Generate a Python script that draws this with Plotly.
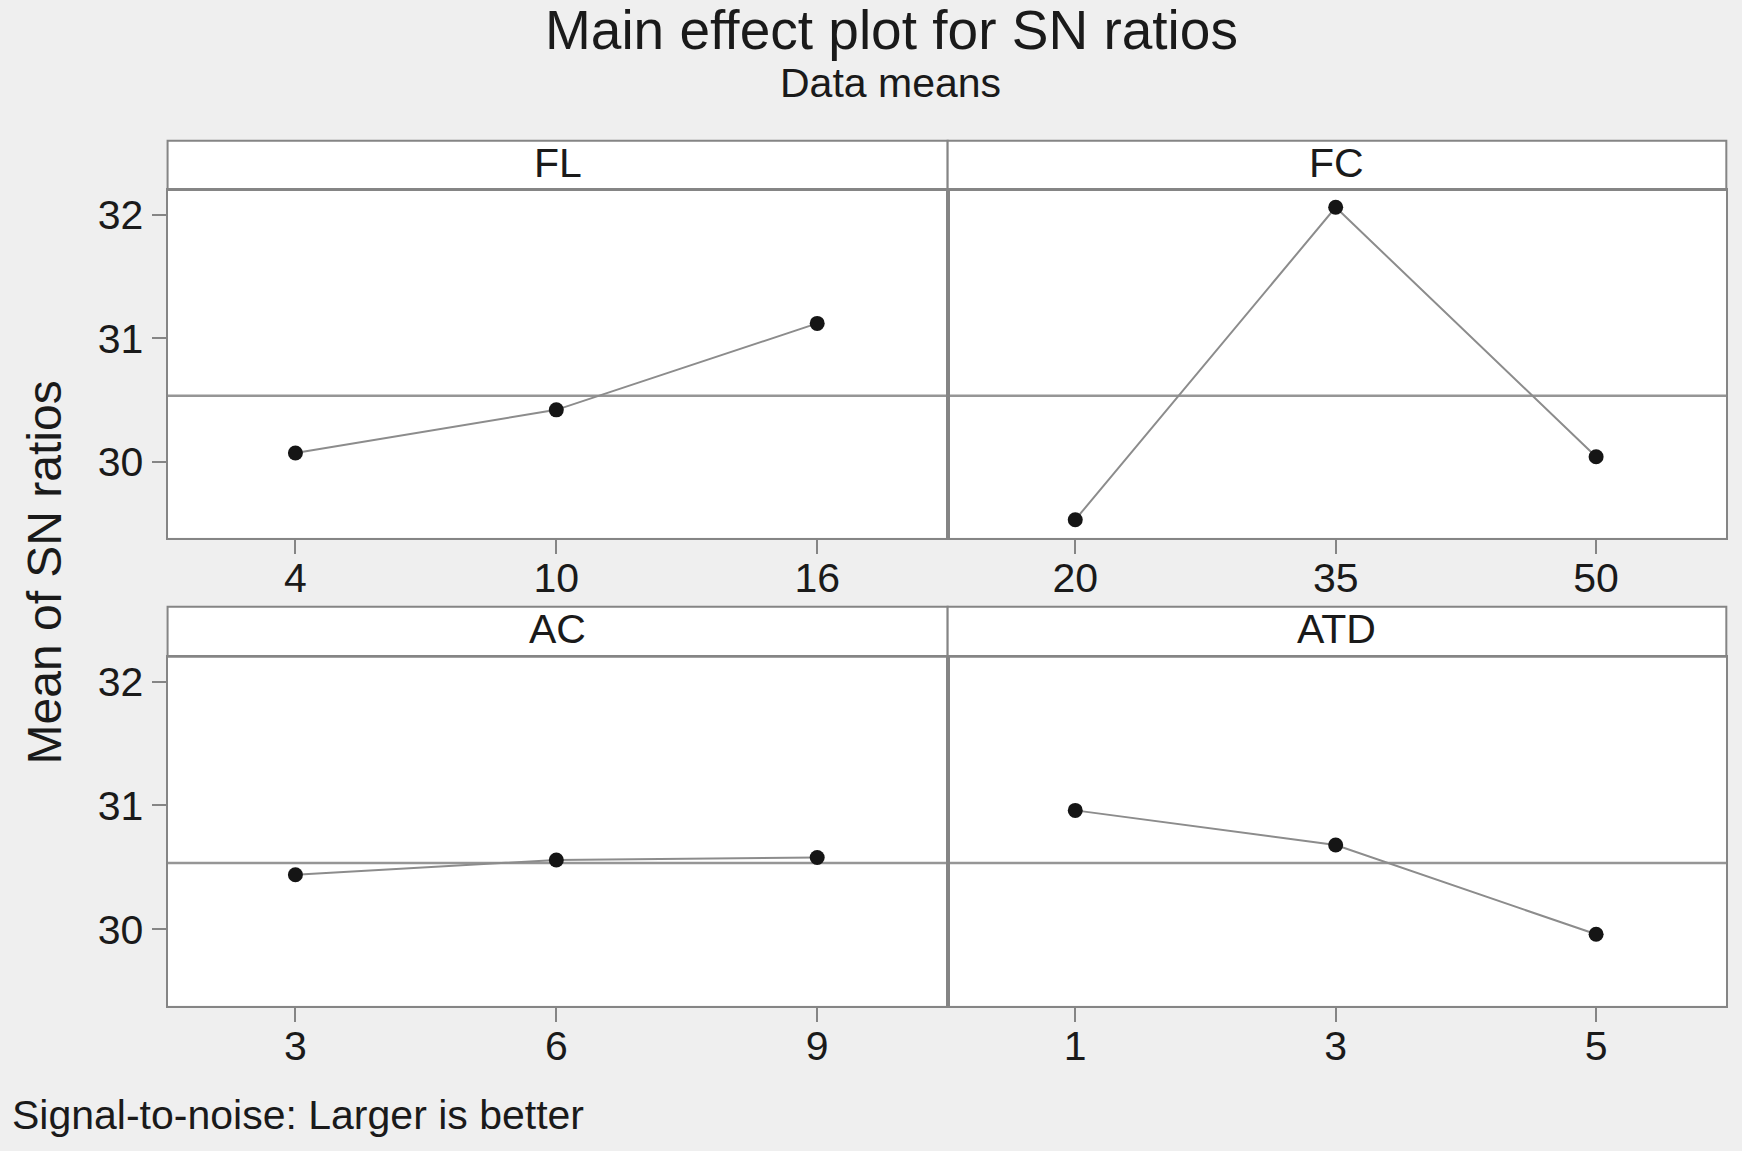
import numpy as np
import plotly.graph_objects as go

# ---- data ----
factors = ["FL", "FC", "AC", "ATD"]
FL_levels = ["4", "10", "16"]
FL_means = [30.07, 30.42, 31.12]
FC_levels = ["20", "35", "50"]
FC_means = [29.53, 32.06, 30.04]
AC_levels = ["3", "6", "9"]
AC_means = [30.44, 30.56, 30.58]
ATD_levels = ["1", "3", "5"]
ATD_means = [30.96, 30.68, 29.96]
y_tick_values = [30, 31, 32]

title_text = "Main effect plot for SN ratios"
subtitle_text = "Data means"
y_title_text = "Mean of SN ratios"
footer_text = "Signal-to-noise: Larger is better"

levels = [FL_levels, FC_levels, AC_levels, ATD_levels]
means = [FL_means, FC_means, AC_means, ATD_means]
grand_mean = float(np.mean(np.concatenate([np.array(m) for m in means])))

# ---- style ----
W, H = 1742, 1151
BG = "#efefef"
LINE = "#858585"
TXT = "#1a1a1a"
FONT = "Liberation Sans, Arial, sans-serif"

col_x = [(0.0962, 0.5440), (0.5440, 0.9910)]
row_y = [  # (plot bottom, plot top / strip bottom, strip top)
    (0.5329, 0.8349, 0.8778),
    (0.1264, 0.4294, 0.4729),
]
y_range = [29.385, 32.2]
x_range = [-0.49, 2.5]

fig = go.Figure()
shapes = []
annotations = []

for i, (name, lv, mv) in enumerate(zip(factors, levels, means)):
    r, c = divmod(i, 2)
    n = i + 1
    xa = "x" if n == 1 else f"x{n}"
    ya = "y" if n == 1 else f"y{n}"
    fig.add_trace(go.Scatter(
        x=lv, y=mv, xaxis=xa, yaxis=ya, mode="lines+markers",
        line=dict(color="#8c8c8c", width=2),
        marker=dict(color="#151515", size=15),
        showlegend=False, hoverinfo="x+y",
    ))
    x0, x1 = col_x[c]
    yb, yt, ys = row_y[r]
    key = "" if n == 1 else str(n)
    fig.layout["xaxis" + key] = dict(
        domain=[x0, x1], anchor=ya, type="category", range=x_range,
        showline=True, mirror=True, linecolor=LINE, linewidth=2,
        showgrid=False, zeroline=False,
        ticks="outside", ticklen=14, tickwidth=2, tickcolor=LINE,
        tickfont=dict(size=41, color=TXT, family=FONT),
        ticklabelstandoff=-11,
    )
    fig.layout["yaxis" + key] = dict(
        domain=[yb, yt], anchor=xa, range=y_range,
        showline=True, mirror=True, linecolor=LINE, linewidth=2,
        showgrid=False, zeroline=False,
        tickvals=y_tick_values,
        ticks="outside" if c == 0 else "", ticklen=14, tickwidth=2, tickcolor=LINE,
        showticklabels=(c == 0),
        tickfont=dict(size=41, color=TXT, family=FONT),
        ticklabelstandoff=0,
    )
    # grand-mean reference line
    shapes.append(dict(type="line", xref=f"{xa} domain", yref=ya,
                       x0=0, x1=1, y0=grand_mean, y1=grand_mean,
                       line=dict(color="#969696", width=2.5), layer="below"))
    # strip header
    shapes.append(dict(type="rect", xref="paper", yref="paper",
                       x0=x0, x1=x1, y0=yt, y1=ys,
                       fillcolor="white", line=dict(color=LINE, width=2), layer="below"))
    annotations.append(dict(text=name, xref="paper", yref="paper",
                            x=(x0 + x1) / 2, y=(yt + ys) / 2 + 0.002,
                            xanchor="center", yanchor="middle", showarrow=False,
                            font=dict(size=41, color=TXT, family=FONT)))

annotations += [
    dict(text=title_text, xref="paper", yref="paper", x=0.5115, y=0.974,
         xanchor="center", yanchor="middle", showarrow=False,
         font=dict(size=55, color=TXT, family=FONT)),
    dict(text=subtitle_text, xref="paper", yref="paper", x=0.511, y=0.928,
         xanchor="center", yanchor="middle", showarrow=False,
         font=dict(size=41, color=TXT, family=FONT)),
    dict(text=y_title_text, xref="paper", yref="paper", x=0.0255, y=0.503,
         xanchor="center", yanchor="middle", textangle=-90, showarrow=False,
         font=dict(size=48, color=TXT, family=FONT)),
    dict(text=footer_text, xref="paper", yref="paper", x=0.0055, y=0.031,
         xanchor="left", yanchor="middle", showarrow=False,
         font=dict(size=41, color=TXT, family=FONT)),
]

fig.update_layout(
    width=W, height=H, margin=dict(l=0, r=0, t=0, b=0),
    paper_bgcolor=BG, plot_bgcolor="white",
    shapes=shapes, annotations=annotations,
    font=dict(family=FONT, color=TXT),
)

fig.write_html("out.html", config={"displayModeBar": False},
               post_script="document.body.style.margin='0';")
